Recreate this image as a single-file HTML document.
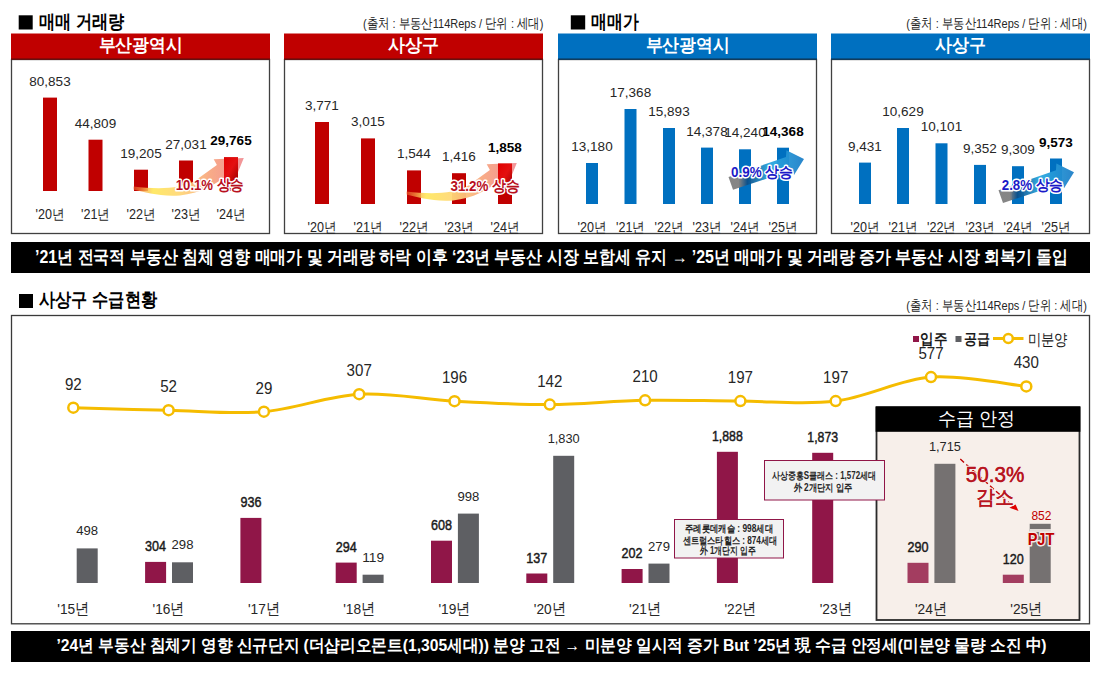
<!DOCTYPE html>
<html><head><meta charset="utf-8"><title>recreation</title>
<style>
html,body{margin:0;padding:0;background:#fff;width:1100px;height:675px;overflow:hidden}
svg{display:block;font-family:"Liberation Sans", sans-serif}
</style></head><body>
<svg width="1100" height="675" viewBox="0 0 1100 675">
<defs>
<linearGradient id="gRed" gradientUnits="userSpaceOnUse" x1="133" y1="0" x2="244" y2="0">
<stop offset="0" stop-color="#F06030" stop-opacity="0.55"/>
<stop offset="0.18" stop-color="#FFE860" stop-opacity="0.95"/>
<stop offset="0.42" stop-color="#FFD878" stop-opacity="0.95"/>
<stop offset="0.68" stop-color="#F8A880" stop-opacity="0.95"/>
<stop offset="1" stop-color="#EE7A80" stop-opacity="0.8"/>
</linearGradient>
<linearGradient id="gBar" x1="0" y1="0" x2="1" y2="1">
<stop offset="0" stop-color="#E00000"/>
<stop offset="0.5" stop-color="#E41010"/>
<stop offset="1" stop-color="#A00000"/>
</linearGradient>
<linearGradient id="gBlue" x1="0" y1="0" x2="1" y2="0">
<stop offset="0" stop-color="#7F7F7F"/>
<stop offset="0.15" stop-color="#7F7F7F"/>
<stop offset="0.25" stop-color="#0B4F8A"/>
<stop offset="0.55" stop-color="#2AA8E0"/>
<stop offset="1" stop-color="#1E7FC8"/>
</linearGradient>
</defs>
<rect width="1100" height="675" fill="#fff"/>

<rect x="18.7" y="15.3" width="14" height="14.2" fill="#000"/>
<text x="39.3" y="28" font-size="19" font-weight="bold" fill="#000" text-anchor="start" textLength="85.3" lengthAdjust="spacingAndGlyphs" >매매 거래량</text>
<rect x="570.8" y="15.3" width="14.4" height="14.2" fill="#000"/>
<text x="591.4" y="28" font-size="19" font-weight="bold" fill="#000" text-anchor="start" textLength="47.6" lengthAdjust="spacingAndGlyphs" >매매가</text>
<text x="363" y="27.6" font-size="13.5" font-weight="normal" fill="#262626" text-anchor="start" textLength="180.5" lengthAdjust="spacingAndGlyphs" >(출처 : 부동산114Reps / 단위 : 세대)</text>
<text x="906.3" y="27.6" font-size="13.5" font-weight="normal" fill="#262626" text-anchor="start" textLength="180.5" lengthAdjust="spacingAndGlyphs" >(출처 : 부동산114Reps / 단위 : 세대)</text>
<rect x="11" y="33.5" width="259" height="25.5" fill="#C00000"/>
<rect x="11.5" y="59.5" width="258" height="174" fill="none" stroke="#404040" stroke-width="1.3"/>
<rect x="11" y="58.5" width="259" height="1.2" fill="#700000"/>
<text x="140.5" y="51.3" font-size="18" font-weight="bold" fill="#fff" text-anchor="middle" textLength="84" lengthAdjust="spacingAndGlyphs" >부산광역시</text>
<rect x="43" y="97.6" width="14" height="93.4" fill="#C00000"/>
<text x="50.0" y="85.6" font-size="13.5" font-weight="normal" fill="#262626" text-anchor="middle" >80,853</text>
<text x="50.0" y="219" font-size="14" font-weight="normal" fill="#262626" text-anchor="middle" textLength="29" lengthAdjust="spacingAndGlyphs" >'20년</text>
<rect x="88.5" y="139.7" width="14" height="51.3" fill="#C00000"/>
<text x="95.5" y="127.7" font-size="13.5" font-weight="normal" fill="#262626" text-anchor="middle" >44,809</text>
<text x="95.5" y="219" font-size="14" font-weight="normal" fill="#262626" text-anchor="middle" textLength="29" lengthAdjust="spacingAndGlyphs" >'21년</text>
<rect x="134" y="169.7" width="14" height="21.3" fill="#C00000"/>
<text x="141.0" y="157.7" font-size="13.5" font-weight="normal" fill="#262626" text-anchor="middle" >19,205</text>
<text x="141.0" y="219" font-size="14" font-weight="normal" fill="#262626" text-anchor="middle" textLength="29" lengthAdjust="spacingAndGlyphs" >'22년</text>
<rect x="179" y="160.5" width="14" height="30.5" fill="#C00000"/>
<text x="186.0" y="148.5" font-size="13.5" font-weight="normal" fill="#262626" text-anchor="middle" >27,031</text>
<text x="186.0" y="219" font-size="14" font-weight="normal" fill="#262626" text-anchor="middle" textLength="29" lengthAdjust="spacingAndGlyphs" >'23년</text>
<rect x="224" y="157.3" width="14" height="33.7" fill="#C00000"/>
<text x="231.0" y="145.3" font-size="13.5" font-weight="bold" fill="#000" text-anchor="middle" >29,765</text>
<text x="231.0" y="219" font-size="14" font-weight="normal" fill="#262626" text-anchor="middle" textLength="29" lengthAdjust="spacingAndGlyphs" >'24년</text>
<rect x="284" y="33.5" width="259" height="25.5" fill="#C00000"/>
<rect x="284.5" y="59.5" width="258" height="174" fill="none" stroke="#404040" stroke-width="1.3"/>
<rect x="284" y="58.5" width="259" height="1.2" fill="#700000"/>
<text x="413.5" y="51.3" font-size="18" font-weight="bold" fill="#fff" text-anchor="middle" textLength="51" lengthAdjust="spacingAndGlyphs" >사상구</text>
<rect x="315" y="122.0" width="14" height="82.0" fill="#C00000"/>
<text x="322.0" y="110.0" font-size="13.5" font-weight="normal" fill="#262626" text-anchor="middle" >3,771</text>
<text x="322.0" y="232" font-size="14" font-weight="normal" fill="#262626" text-anchor="middle" textLength="29" lengthAdjust="spacingAndGlyphs" >'20년</text>
<rect x="361" y="138.4" width="14" height="65.6" fill="#C00000"/>
<text x="368.0" y="126.4" font-size="13.5" font-weight="normal" fill="#262626" text-anchor="middle" >3,015</text>
<text x="368.0" y="232" font-size="14" font-weight="normal" fill="#262626" text-anchor="middle" textLength="29" lengthAdjust="spacingAndGlyphs" >'21년</text>
<rect x="407" y="170.4" width="14" height="33.6" fill="#C00000"/>
<text x="414.0" y="158.4" font-size="13.5" font-weight="normal" fill="#262626" text-anchor="middle" >1,544</text>
<text x="414.0" y="232" font-size="14" font-weight="normal" fill="#262626" text-anchor="middle" textLength="29" lengthAdjust="spacingAndGlyphs" >'22년</text>
<rect x="452" y="173.2" width="14" height="30.8" fill="#C00000"/>
<text x="459.0" y="161.2" font-size="13.5" font-weight="normal" fill="#262626" text-anchor="middle" >1,416</text>
<text x="459.0" y="232" font-size="14" font-weight="normal" fill="#262626" text-anchor="middle" textLength="29" lengthAdjust="spacingAndGlyphs" >'23년</text>
<rect x="498" y="163.6" width="14" height="40.4" fill="#C00000"/>
<text x="505.0" y="151.6" font-size="13.5" font-weight="bold" fill="#000" text-anchor="middle" >1,858</text>
<text x="505.0" y="232" font-size="14" font-weight="normal" fill="#262626" text-anchor="middle" textLength="29" lengthAdjust="spacingAndGlyphs" >'24년</text>
<rect x="558" y="33.5" width="259" height="25.5" fill="#0070C0"/>
<rect x="558.5" y="59.5" width="258" height="174" fill="none" stroke="#404040" stroke-width="1.3"/>
<rect x="558" y="58.5" width="259" height="1.2" fill="#003A66"/>
<text x="687.5" y="51.3" font-size="18" font-weight="bold" fill="#fff" text-anchor="middle" textLength="84" lengthAdjust="spacingAndGlyphs" >부산광역시</text>
<rect x="586" y="163.0" width="12" height="41.0" fill="#0070C0"/>
<text x="592.0" y="151.0" font-size="13.5" font-weight="normal" fill="#262626" text-anchor="middle" >13,180</text>
<text x="592.0" y="232" font-size="14" font-weight="normal" fill="#262626" text-anchor="middle" textLength="29" lengthAdjust="spacingAndGlyphs" >'20년</text>
<rect x="624.5" y="109.0" width="12" height="95.0" fill="#0070C0"/>
<text x="630.5" y="97.0" font-size="13.5" font-weight="normal" fill="#262626" text-anchor="middle" >17,368</text>
<text x="630.5" y="232" font-size="14" font-weight="normal" fill="#262626" text-anchor="middle" textLength="29" lengthAdjust="spacingAndGlyphs" >'21년</text>
<rect x="663" y="128.0" width="12" height="76.0" fill="#0070C0"/>
<text x="669.0" y="116.0" font-size="13.5" font-weight="normal" fill="#262626" text-anchor="middle" >15,893</text>
<text x="669.0" y="232" font-size="14" font-weight="normal" fill="#262626" text-anchor="middle" textLength="29" lengthAdjust="spacingAndGlyphs" >'22년</text>
<rect x="701" y="147.6" width="12" height="56.4" fill="#0070C0"/>
<text x="707.0" y="135.6" font-size="13.5" font-weight="normal" fill="#262626" text-anchor="middle" >14,378</text>
<text x="707.0" y="232" font-size="14" font-weight="normal" fill="#262626" text-anchor="middle" textLength="29" lengthAdjust="spacingAndGlyphs" >'23년</text>
<rect x="739" y="149.3" width="12" height="54.7" fill="#0070C0"/>
<text x="745.0" y="137.3" font-size="13.5" font-weight="normal" fill="#262626" text-anchor="middle" >14,240</text>
<text x="745.0" y="232" font-size="14" font-weight="normal" fill="#262626" text-anchor="middle" textLength="29" lengthAdjust="spacingAndGlyphs" >'24년</text>
<rect x="777" y="147.7" width="12" height="56.3" fill="#0070C0"/>
<text x="783.0" y="135.7" font-size="13.5" font-weight="bold" fill="#000" text-anchor="middle" >14,368</text>
<text x="783.0" y="232" font-size="14" font-weight="normal" fill="#262626" text-anchor="middle" textLength="29" lengthAdjust="spacingAndGlyphs" >'25년</text>
<rect x="831" y="33.5" width="259" height="25.5" fill="#0070C0"/>
<rect x="831.5" y="59.5" width="258" height="174" fill="none" stroke="#404040" stroke-width="1.3"/>
<rect x="831" y="58.5" width="259" height="1.2" fill="#003A66"/>
<text x="960.5" y="51.3" font-size="18" font-weight="bold" fill="#fff" text-anchor="middle" textLength="51" lengthAdjust="spacingAndGlyphs" >사상구</text>
<rect x="859" y="162.6" width="12" height="41.4" fill="#0070C0"/>
<text x="865.0" y="150.6" font-size="13.5" font-weight="normal" fill="#262626" text-anchor="middle" >9,431</text>
<text x="865.0" y="232" font-size="14" font-weight="normal" fill="#262626" text-anchor="middle" textLength="29" lengthAdjust="spacingAndGlyphs" >'20년</text>
<rect x="897" y="128.0" width="12" height="76.0" fill="#0070C0"/>
<text x="903.0" y="116.0" font-size="13.5" font-weight="normal" fill="#262626" text-anchor="middle" >10,629</text>
<text x="903.0" y="232" font-size="14" font-weight="normal" fill="#262626" text-anchor="middle" textLength="29" lengthAdjust="spacingAndGlyphs" >'21년</text>
<rect x="935.5" y="143.3" width="12" height="60.7" fill="#0070C0"/>
<text x="941.5" y="131.3" font-size="13.5" font-weight="normal" fill="#262626" text-anchor="middle" >10,101</text>
<text x="941.5" y="232" font-size="14" font-weight="normal" fill="#262626" text-anchor="middle" textLength="29" lengthAdjust="spacingAndGlyphs" >'22년</text>
<rect x="974" y="164.9" width="12" height="39.1" fill="#0070C0"/>
<text x="980.0" y="152.9" font-size="13.5" font-weight="normal" fill="#262626" text-anchor="middle" >9,352</text>
<text x="980.0" y="232" font-size="14" font-weight="normal" fill="#262626" text-anchor="middle" textLength="29" lengthAdjust="spacingAndGlyphs" >'23년</text>
<rect x="1012" y="166.2" width="12" height="37.8" fill="#0070C0"/>
<text x="1018.0" y="154.2" font-size="13.5" font-weight="normal" fill="#262626" text-anchor="middle" >9,309</text>
<text x="1018.0" y="232" font-size="14" font-weight="normal" fill="#262626" text-anchor="middle" textLength="29" lengthAdjust="spacingAndGlyphs" >'24년</text>
<rect x="1050" y="158.5" width="12" height="45.5" fill="#0070C0"/>
<text x="1056.0" y="146.5" font-size="13.5" font-weight="bold" fill="#000" text-anchor="middle" >9,573</text>
<text x="1056.0" y="232" font-size="14" font-weight="normal" fill="#262626" text-anchor="middle" textLength="29" lengthAdjust="spacingAndGlyphs" >'25년</text>
<path transform="translate(0,0)" d="M133.5,186.5 C155,189 180,190 196,180 L216.9,165.1 L213.7,159.2 L243.8,158 L236,177 L229.5,172.8 C215,186 200,193 180,195.5 C160,197 145,192 133.5,189.5 Z" fill="url(#gRed)"/>
<rect x="224" y="157.3" width="14" height="24" fill="url(#gBar)"/>
<text x="209.8" y="190.3" font-size="14.5" font-weight="bold" fill="#B8101E" text-anchor="middle" textLength="68" lengthAdjust="spacingAndGlyphs" stroke="#fff" stroke-width="3" paint-order="stroke" stroke-linejoin="round">10.1% 상승</text>
<path transform="translate(273,5)" d="M133.5,186.5 C155,189 180,190 196,180 L216.9,165.1 L213.7,159.2 L243.8,158 L236,177 L229.5,172.8 C215,186 200,193 180,195.5 C160,197 145,192 133.5,189.5 Z" fill="url(#gRed)"/>
<rect x="498" y="163.6" width="14" height="24" fill="url(#gBar)"/>
<text x="485.1" y="190.6" font-size="14.5" font-weight="bold" fill="#B8101E" text-anchor="middle" textLength="69.2" lengthAdjust="spacingAndGlyphs" stroke="#fff" stroke-width="3" paint-order="stroke" stroke-linejoin="round">31.2% 상승</text>
<path transform="translate(0,0)" d="M728.5,177 L786,157 L786.4,150.3 L804,159 L794,175 L793,170 L733,189.7 Z" fill="url(#gBlue)" fill-opacity="0.95"/>
<text x="762" y="176.5" font-size="14.5" font-weight="bold" fill="#1A1AC8" text-anchor="middle" textLength="62" lengthAdjust="spacingAndGlyphs" stroke="#fff" stroke-width="3" paint-order="stroke" stroke-linejoin="round">0.9% 상승</text>
<path transform="translate(270,13.3)" d="M728.5,177 L786,157 L786.4,150.3 L804,159 L794,175 L793,170 L733,189.7 Z" fill="url(#gBlue)" fill-opacity="0.95"/>
<text x="1032.5" y="190.2" font-size="14.5" font-weight="bold" fill="#1A1AC8" text-anchor="middle" textLength="61.4" lengthAdjust="spacingAndGlyphs" stroke="#fff" stroke-width="3" paint-order="stroke" stroke-linejoin="round">2.8% 상승</text>
<rect x="11" y="242" width="1079" height="31" fill="#000"/>
<text x="35" y="262.6" font-size="18" font-weight="bold" fill="#fff" text-anchor="start" textLength="1033" lengthAdjust="spacingAndGlyphs" >’21년 전국적 부동산 침체 영향 매매가 및 거래량 하락 이후 ‘23년 부동산 시장 보합세 유지 → ’25년 매매가 및 거래량 증가 부동산 시장 회복기 돌입</text>
<rect x="19" y="294" width="14" height="14" fill="#000"/>
<text x="39" y="306" font-size="19" font-weight="bold" fill="#000" text-anchor="start" textLength="118" lengthAdjust="spacingAndGlyphs" >사상구 수급현황</text>
<text x="906.3" y="309.6" font-size="13.5" font-weight="normal" fill="#262626" text-anchor="start" textLength="180.5" lengthAdjust="spacingAndGlyphs" >(출처 : 부동산114Reps / 단위 : 세대)</text>
<rect x="11.5" y="315.5" width="1078" height="308.3" fill="none" stroke="#3a3a3a" stroke-width="1.3"/>
<rect x="876.5" y="407" width="203" height="213" fill="#F7EFEA" stroke="#2a2a2a" stroke-width="1.8"/>
<rect x="875.6" y="406.8" width="204.8" height="25" fill="#000"/>
<text x="976.3" y="425" font-size="18.5" font-weight="normal" fill="#fff" text-anchor="middle" textLength="77" lengthAdjust="spacingAndGlyphs" >수급 안정</text>
<rect x="76.7" y="548.4" width="21" height="34.6" fill="#5E5F63"/>
<text x="87.2" y="535.4" font-size="13.3" font-weight="normal" fill="#262626" text-anchor="middle" textLength="21.9" lengthAdjust="spacingAndGlyphs" >498</text>
<text x="73.3" y="614" font-size="15.5" font-weight="normal" fill="#262626" text-anchor="middle" textLength="32" lengthAdjust="spacingAndGlyphs" >'15년</text>
<rect x="145.1" y="561.9" width="21" height="21.1" fill="#901648"/>
<text x="155.6" y="550.9" font-size="14" font-weight="normal" fill="#1a1a1a" text-anchor="middle" textLength="21.0" lengthAdjust="spacingAndGlyphs" stroke="#1a1a1a" stroke-width="0.45">304</text>
<rect x="172.0" y="562.3" width="21" height="20.7" fill="#5E5F63"/>
<text x="182.5" y="549.3" font-size="13.3" font-weight="normal" fill="#262626" text-anchor="middle" textLength="21.9" lengthAdjust="spacingAndGlyphs" >298</text>
<text x="168.6" y="614" font-size="15.5" font-weight="normal" fill="#262626" text-anchor="middle" textLength="32" lengthAdjust="spacingAndGlyphs" >'16년</text>
<rect x="240.4" y="517.9" width="21" height="65.1" fill="#901648"/>
<text x="250.9" y="506.9" font-size="14" font-weight="normal" fill="#1a1a1a" text-anchor="middle" textLength="21.0" lengthAdjust="spacingAndGlyphs" stroke="#1a1a1a" stroke-width="0.45">936</text>
<text x="263.9" y="614" font-size="15.5" font-weight="normal" fill="#262626" text-anchor="middle" textLength="32" lengthAdjust="spacingAndGlyphs" >'17년</text>
<rect x="335.7" y="562.6" width="21" height="20.4" fill="#901648"/>
<text x="346.2" y="551.6" font-size="14" font-weight="normal" fill="#1a1a1a" text-anchor="middle" textLength="21.0" lengthAdjust="spacingAndGlyphs" stroke="#1a1a1a" stroke-width="0.45">294</text>
<rect x="362.6" y="574.7" width="21" height="8.3" fill="#5E5F63"/>
<text x="373.1" y="561.7" font-size="13.3" font-weight="normal" fill="#262626" text-anchor="middle" textLength="21.9" lengthAdjust="spacingAndGlyphs" >119</text>
<text x="359.2" y="614" font-size="15.5" font-weight="normal" fill="#262626" text-anchor="middle" textLength="32" lengthAdjust="spacingAndGlyphs" >'18년</text>
<rect x="431.0" y="540.7" width="21" height="42.3" fill="#901648"/>
<text x="441.5" y="529.7" font-size="14" font-weight="normal" fill="#1a1a1a" text-anchor="middle" textLength="21.0" lengthAdjust="spacingAndGlyphs" stroke="#1a1a1a" stroke-width="0.45">608</text>
<rect x="457.9" y="513.6" width="21" height="69.4" fill="#5E5F63"/>
<text x="468.4" y="500.6" font-size="13.3" font-weight="normal" fill="#262626" text-anchor="middle" textLength="21.9" lengthAdjust="spacingAndGlyphs" >998</text>
<text x="454.5" y="614" font-size="15.5" font-weight="normal" fill="#262626" text-anchor="middle" textLength="32" lengthAdjust="spacingAndGlyphs" >'19년</text>
<rect x="526.3" y="573.5" width="21" height="9.5" fill="#901648"/>
<text x="536.8" y="562.5" font-size="14" font-weight="normal" fill="#1a1a1a" text-anchor="middle" textLength="21.0" lengthAdjust="spacingAndGlyphs" stroke="#1a1a1a" stroke-width="0.45">137</text>
<rect x="553.2" y="455.8" width="21" height="127.2" fill="#5E5F63"/>
<text x="563.7" y="442.8" font-size="13.3" font-weight="normal" fill="#262626" text-anchor="middle" textLength="32.0" lengthAdjust="spacingAndGlyphs" >1,830</text>
<text x="549.8" y="614" font-size="15.5" font-weight="normal" fill="#262626" text-anchor="middle" textLength="32" lengthAdjust="spacingAndGlyphs" >'20년</text>
<rect x="621.6" y="569.0" width="21" height="14.0" fill="#901648"/>
<text x="632.1" y="558.0" font-size="14" font-weight="normal" fill="#1a1a1a" text-anchor="middle" textLength="21.0" lengthAdjust="spacingAndGlyphs" stroke="#1a1a1a" stroke-width="0.45">202</text>
<rect x="648.5" y="563.6" width="21" height="19.4" fill="#5E5F63"/>
<text x="659.0" y="550.6" font-size="13.3" font-weight="normal" fill="#262626" text-anchor="middle" textLength="21.9" lengthAdjust="spacingAndGlyphs" >279</text>
<text x="645.1" y="614" font-size="15.5" font-weight="normal" fill="#262626" text-anchor="middle" textLength="32" lengthAdjust="spacingAndGlyphs" >'21년</text>
<rect x="716.9" y="451.8" width="21" height="131.2" fill="#901648"/>
<text x="727.4" y="440.8" font-size="14" font-weight="normal" fill="#1a1a1a" text-anchor="middle" textLength="30.8" lengthAdjust="spacingAndGlyphs" stroke="#1a1a1a" stroke-width="0.45">1,888</text>
<text x="740.4" y="614" font-size="15.5" font-weight="normal" fill="#262626" text-anchor="middle" textLength="32" lengthAdjust="spacingAndGlyphs" >'22년</text>
<rect x="812.2" y="452.8" width="21" height="130.2" fill="#901648"/>
<text x="822.7" y="441.8" font-size="14" font-weight="normal" fill="#1a1a1a" text-anchor="middle" textLength="30.8" lengthAdjust="spacingAndGlyphs" stroke="#1a1a1a" stroke-width="0.45">1,873</text>
<text x="835.7" y="614" font-size="15.5" font-weight="normal" fill="#262626" text-anchor="middle" textLength="32" lengthAdjust="spacingAndGlyphs" >'23년</text>
<rect x="907.5" y="562.8" width="21" height="20.2" fill="#A33D60"/>
<text x="918.0" y="551.8" font-size="14" font-weight="normal" fill="#1a1a1a" text-anchor="middle" textLength="21.0" lengthAdjust="spacingAndGlyphs" stroke="#1a1a1a" stroke-width="0.45">290</text>
<rect x="934.4" y="463.8" width="21" height="119.2" fill="#757171"/>
<text x="944.9" y="450.8" font-size="13.3" font-weight="normal" fill="#262626" text-anchor="middle" textLength="32.0" lengthAdjust="spacingAndGlyphs" >1,715</text>
<text x="931.0" y="614" font-size="15.5" font-weight="normal" fill="#262626" text-anchor="middle" textLength="32" lengthAdjust="spacingAndGlyphs" >'24년</text>
<rect x="1002.8" y="574.7" width="21" height="8.3" fill="#A33D60"/>
<text x="1013.3" y="563.7" font-size="14" font-weight="normal" fill="#1a1a1a" text-anchor="middle" textLength="21.0" lengthAdjust="spacingAndGlyphs" stroke="#1a1a1a" stroke-width="0.45">120</text>
<rect x="1029.7" y="523.8" width="21" height="59.2" fill="#757171"/>
<text x="1026.3" y="614" font-size="15.5" font-weight="normal" fill="#262626" text-anchor="middle" textLength="32" lengthAdjust="spacingAndGlyphs" >'25년</text>
<path d="M73.3,407.7 C89.2,408.1 136.8,409.6 168.6,410.2 C200.4,410.9 232.1,414.4 263.9,411.7 C295.7,409.0 327.4,395.9 359.2,394.2 C391.0,392.4 422.7,399.4 454.5,401.2 C486.3,402.9 518.0,404.7 549.8,404.6 C581.6,404.4 613.3,400.8 645.1,400.3 C676.9,399.7 708.6,401.0 740.4,401.1 C772.2,401.2 803.9,405.1 835.7,401.1 C867.5,397.1 899.2,379.6 931.0,377.1 C962.8,374.7 1010.4,384.9 1026.3,386.4" fill="none" stroke="#F5BC00" stroke-width="3"/>
<circle cx="73.3" cy="407.7" r="5" fill="#fff" stroke="#F5BC00" stroke-width="2.5"/>
<text x="73.3" y="389.7" font-size="16" font-weight="normal" fill="#262626" text-anchor="middle" textLength="16.8" lengthAdjust="spacingAndGlyphs" >92</text>
<circle cx="168.6" cy="410.2" r="5" fill="#fff" stroke="#F5BC00" stroke-width="2.5"/>
<text x="168.6" y="392.2" font-size="16" font-weight="normal" fill="#262626" text-anchor="middle" textLength="16.8" lengthAdjust="spacingAndGlyphs" >52</text>
<circle cx="263.9" cy="411.7" r="5" fill="#fff" stroke="#F5BC00" stroke-width="2.5"/>
<text x="263.9" y="393.7" font-size="16" font-weight="normal" fill="#262626" text-anchor="middle" textLength="16.8" lengthAdjust="spacingAndGlyphs" >29</text>
<circle cx="359.2" cy="394.2" r="5" fill="#fff" stroke="#F5BC00" stroke-width="2.5"/>
<text x="359.2" y="376.2" font-size="16" font-weight="normal" fill="#262626" text-anchor="middle" textLength="25.2" lengthAdjust="spacingAndGlyphs" >307</text>
<circle cx="454.5" cy="401.2" r="5" fill="#fff" stroke="#F5BC00" stroke-width="2.5"/>
<text x="454.5" y="383.2" font-size="16" font-weight="normal" fill="#262626" text-anchor="middle" textLength="25.2" lengthAdjust="spacingAndGlyphs" >196</text>
<circle cx="549.8" cy="404.6" r="5" fill="#fff" stroke="#F5BC00" stroke-width="2.5"/>
<text x="549.8" y="386.6" font-size="16" font-weight="normal" fill="#262626" text-anchor="middle" textLength="25.2" lengthAdjust="spacingAndGlyphs" >142</text>
<circle cx="645.1" cy="400.3" r="5" fill="#fff" stroke="#F5BC00" stroke-width="2.5"/>
<text x="645.1" y="382.3" font-size="16" font-weight="normal" fill="#262626" text-anchor="middle" textLength="25.2" lengthAdjust="spacingAndGlyphs" >210</text>
<circle cx="740.4" cy="401.1" r="5" fill="#fff" stroke="#F5BC00" stroke-width="2.5"/>
<text x="740.4" y="383.1" font-size="16" font-weight="normal" fill="#262626" text-anchor="middle" textLength="25.2" lengthAdjust="spacingAndGlyphs" >197</text>
<circle cx="835.7" cy="401.1" r="5" fill="#fff" stroke="#F5BC00" stroke-width="2.5"/>
<text x="835.7" y="383.1" font-size="16" font-weight="normal" fill="#262626" text-anchor="middle" textLength="25.2" lengthAdjust="spacingAndGlyphs" >197</text>
<circle cx="931.0" cy="377.1" r="5" fill="#fff" stroke="#F5BC00" stroke-width="2.5"/>
<text x="931.0" y="359.1" font-size="16" font-weight="normal" fill="#262626" text-anchor="middle" textLength="25.2" lengthAdjust="spacingAndGlyphs" >577</text>
<circle cx="1026.3" cy="386.4" r="5" fill="#fff" stroke="#F5BC00" stroke-width="2.5"/>
<text x="1026.3" y="368.4" font-size="16" font-weight="normal" fill="#262626" text-anchor="middle" textLength="25.2" lengthAdjust="spacingAndGlyphs" >430</text>
<rect x="913" y="336" width="6" height="6" fill="#901648"/>
<text x="920.4" y="344" font-size="15" font-weight="bold" fill="#1a1a1a" text-anchor="start" textLength="27" lengthAdjust="spacingAndGlyphs" >입주</text>
<rect x="955.5" y="336" width="6" height="6" fill="#5E5F63"/>
<text x="964" y="344" font-size="15" font-weight="bold" fill="#1a1a1a" text-anchor="start" textLength="26" lengthAdjust="spacingAndGlyphs" >공급</text>
<line x1="993" y1="338.5" x2="1023.5" y2="338.5" stroke="#F5BC00" stroke-width="3"/>
<circle cx="1008.3" cy="338.5" r="4.5" fill="#fff" stroke="#F5BC00" stroke-width="2.5"/>
<text x="1027.5" y="344.5" font-size="15.5" font-weight="normal" fill="#1a1a1a" text-anchor="start" textLength="40" lengthAdjust="spacingAndGlyphs" >미분양</text>
<rect x="674.5" y="519.5" width="109" height="38.5" fill="#F2F2F2" stroke="#901648" stroke-width="1"/>
<text x="729" y="531.5" font-size="10" font-weight="bold" fill="#262626" text-anchor="middle" textLength="88" lengthAdjust="spacingAndGlyphs" >주례롯데캐슬 : 998세대</text>
<text x="730" y="543.5" font-size="10" font-weight="bold" fill="#262626" text-anchor="middle" textLength="94.6" lengthAdjust="spacingAndGlyphs" >센트럴스타힐스 : 874세대</text>
<text x="728" y="554" font-size="10" font-weight="bold" fill="#262626" text-anchor="middle" textLength="56" lengthAdjust="spacingAndGlyphs" >外 1개단지 입주</text>
<rect x="764.5" y="460.5" width="120" height="39.5" fill="#F2F2F2" stroke="#901648" stroke-width="1"/>
<text x="824" y="479" font-size="10" font-weight="bold" fill="#262626" text-anchor="middle" textLength="104" lengthAdjust="spacingAndGlyphs" >사상중흥S클래스 : 1,572세대</text>
<text x="823" y="490.5" font-size="10" font-weight="bold" fill="#262626" text-anchor="middle" textLength="59" lengthAdjust="spacingAndGlyphs" >外 2개단지 입주</text>
<path d="M960.3,459.1 L1012,505.5" stroke="#C00000" stroke-width="1.4" stroke-dasharray="5,3" fill="none"/>
<path d="M1009.4,507.7 L1015.6,504.6 L1018.5,511 Z" fill="#E00000"/>
<text x="995" y="481.8" font-size="22" font-weight="normal" fill="#B81420" text-anchor="middle" textLength="58.5" lengthAdjust="spacingAndGlyphs" stroke="#F6EEEA" stroke-width="2.5" paint-order="stroke">50.3%</text>
<text x="995" y="481.8" font-size="22" font-weight="normal" fill="#B81420" text-anchor="middle" textLength="58.5" lengthAdjust="spacingAndGlyphs" stroke="#B81420" stroke-width="0.35">50.3%</text>
<text x="995.2" y="503.5" font-size="20" font-weight="normal" fill="#B81420" text-anchor="middle" textLength="38" lengthAdjust="spacingAndGlyphs" stroke="#F6EEEA" stroke-width="2.5" paint-order="stroke">감소</text>
<text x="995.2" y="503.5" font-size="20" font-weight="normal" fill="#B81420" text-anchor="middle" textLength="38" lengthAdjust="spacingAndGlyphs" stroke="#B81420" stroke-width="0.35">감소</text>
<text x="1041.4" y="520.4" font-size="13" font-weight="normal" fill="#C00000" text-anchor="middle" textLength="20" lengthAdjust="spacingAndGlyphs" >852</text>
<rect x="1030" y="529" width="21" height="3" fill="#E3DCD8"/>
<text x="1041" y="544.7" font-size="17" font-weight="bold" fill="#C00000" text-anchor="middle" textLength="26.7" lengthAdjust="spacingAndGlyphs" stroke="#F2EAE6" stroke-width="3" paint-order="stroke" stroke-linejoin="round">PJT</text>
<rect x="11" y="631" width="1079" height="31" fill="#000"/>
<text x="56.5" y="651.3" font-size="17" font-weight="bold" fill="#fff" text-anchor="start" textLength="990" lengthAdjust="spacingAndGlyphs" >’24년 부동산 침체기 영향 신규단지 (더샵리오몬트(1,305세대)) 분양 고전 → 미분양 일시적 증가 But ’25년 現 수급 안정세(미분양 물량 소진 中)</text>
</svg></body></html>
